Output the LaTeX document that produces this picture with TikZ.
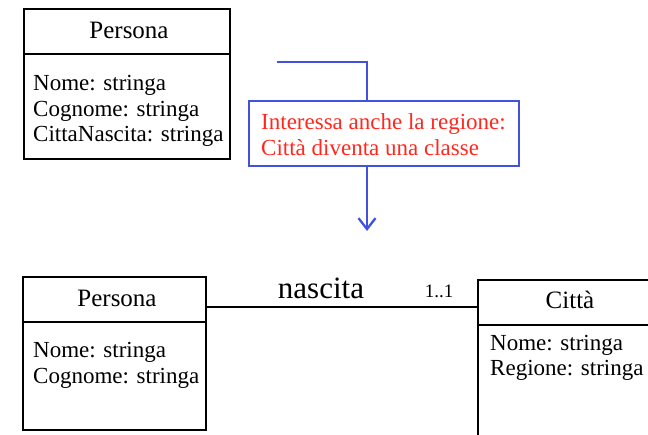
\documentclass[tikz,border=0pt]{standalone}
\usepackage{fontspec}
\setmainfont{Liberation Serif}
\usetikzlibrary{arrows.meta}
\definecolor{bluline}{RGB}{66,82,222}
\definecolor{redtxt}{RGB}{255,40,30}
\tikzset{
  classbox/.style={draw=black, line width=2.1pt, rectangle, inner sep=0pt},
  divline/.style={draw=black, line width=2.1pt},
  ctitle/.style={anchor=base, inner sep=0pt, font=\fontsize{25}{28}\selectfont},
  cattr/.style={anchor=base west, inner sep=0pt, font=\fontsize{23}{26}\selectfont},
  notebox/.style={draw=bluline, line width=2.3pt, rectangle, inner sep=0pt},
  notetxt/.style={anchor=base west, inner sep=0pt, text=redtxt, font=\fontsize{23}{26}\selectfont},
  bluepath/.style={draw=bluline, line width=2.3pt},
  assoc/.style={draw=black, line width=2.1pt},
}
\begin{document}
\begin{tikzpicture}[x=1pt,y=-1pt]
\useasboundingbox (0,0) rectangle (648,434);
\clip (0,0) rectangle (648,434);
% top Persona
\node[classbox, minimum width=206pt, minimum height=150pt] (p1) at (127,84) {};
\coordinate (d1) at (0,54);
\draw[divline] (p1.west |- d1) -- (p1.east |- d1);
\node[ctitle] (p1t) at (129,38) {Persona};
\node[cattr] (p1a) at (33,90) {Nome: stringa};
\node[cattr] (p1b) at (33,116) {Cognome: stringa};
\node[cattr] (p1c) at (33,141) {CittaNascita: stringa};
% note
\node[notebox, minimum width=270pt, minimum height=65pt] (note) at (384,133.5) {};
\node[notetxt] (n1) at (261,129) {Interessa anche la regione:};
\node[notetxt] (n2) at (261,155) {Città diventa una classe};
\coordinate (bstart) at (277,62);
\coordinate (bx) at (367,0);
\coordinate (btip) at (367,231);
\draw[bluepath] (bstart) -- (bstart -| bx) -- (note.north -| bx);
\draw[bluepath, -{Straight Barb[length=11pt,width=17pt,line width=2.3pt]}] (note.south -| bx) -- (btip);
% bottom Persona
\node[classbox, minimum width=183pt, minimum height=153pt] (p2) at (114.5,353.5) {};
\coordinate (d2) at (0,322);
\draw[divline] (p2.west |- d2) -- (p2.east |- d2);
\node[ctitle] (p2t) at (117,306) {Persona};
\node[cattr] (p2a) at (33,357) {Nome: stringa};
\node[cattr] (p2b) at (33,383) {Cognome: stringa};
% Città
\node[classbox, minimum width=182pt, minimum height=170pt] (citta) at (569,365) {};
\coordinate (d3) at (0,325);
\draw[divline] (citta.west |- d3) -- (citta.east |- d3);
\node[ctitle] (ct) at (570,308) {Città};
\node[cattr] (ca) at (490,350) {Nome: stringa};
\node[cattr] (cb) at (490,375) {Regione: stringa};
% association
\coordinate (ay) at (0,307);
\draw[assoc] (p2.east |- ay) -- (citta.west |- ay);
\node[anchor=base, inner sep=0pt, font=\fontsize{31}{34}\selectfont] (nasc) at (321,298) {nascita};
\node[anchor=base, inner sep=0pt, font=\fontsize{19}{22}\selectfont] (mult) at (439,297) {1..1};
\end{tikzpicture}
\end{document}
